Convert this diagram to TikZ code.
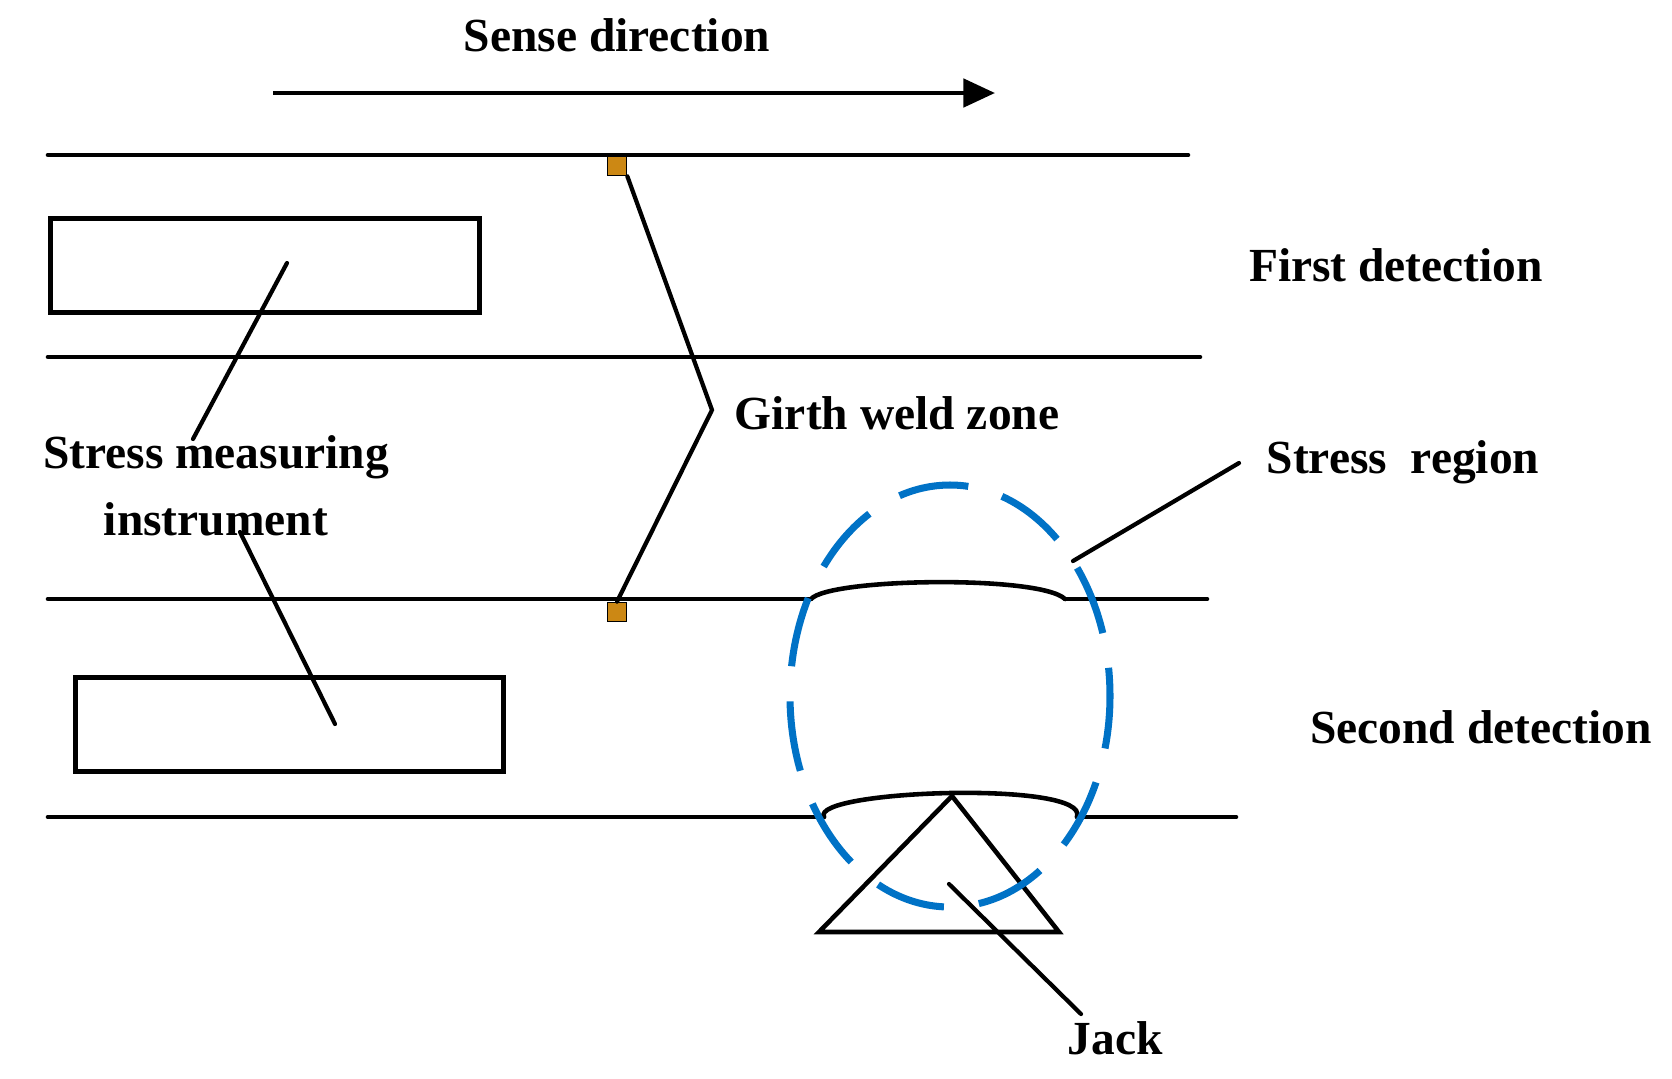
\documentclass[tikz,border=0pt]{standalone}
\usepackage{fontspec}
\setmainfont{Liberation Serif}
\usetikzlibrary{arrows.meta,positioning}
\definecolor{weldorange}{RGB}{204,136,20}
\definecolor{stressblue}{RGB}{0,114,198}

\begin{document}
\begin{tikzpicture}[x=0.01cm, y=-0.01cm]
% Define styles
\tikzset{
  pipe/.style={line width=1.3pt, line cap=round},
  leader/.style={line width=1.2pt, line cap=round},
  label/.style={font=\fontsize{13.5}{16}\selectfont\bfseries, align=center, inner sep=0pt},
  weld/.style={draw=black, fill=weldorange, minimum size=5.5pt, inner sep=0pt, line width=0.4pt},
  arrow/.style={line width=1.3pt, -{Triangle[length=9pt, width=8pt]}}
}
\useasboundingbox (0,0) rectangle (1672,1078);

% Labels
\node (sense) [label] at (617,35) {Sense direction};
\node (first) [label] at (1396,265) {First detection};
\node (second) [label] at (1481,727) {Second detection};
\node (girth) [label] at (897,413) {Girth weld zone};
\node (stress) [label, anchor=west] at (1266,462) {Stress\ \ region};
\node (instr) [label] at (216,486) {Stress measuring\\[3pt]instrument};
\node (jack) [label] at (1115,1038) {Jack};

% Sense direction
\coordinate (s1) at (273,93);
\coordinate (s2) at (995,93);
\draw [arrow] (s1) -- (s2);

% Pipe walls
\draw [pipe] (48,155) -- (1188,155);
\draw [pipe] (48,357) -- (1200,357);
\draw [pipe] (48,599) -- (811,599);
\draw [pipe] (1065,599) -- (1207,599);
\draw [pipe] (48,817) -- (824,817);
\draw [pipe] (1077,817) -- (1236,817);

% Bulges at stress region
\draw [pipe] (811,599) .. controls (830,578) and (1040,575) .. (1065,599);
\draw [pipe] (824,817) .. controls (810,790) and (1090,780) .. (1077,817);

% Instruments
\node (box1) [draw, line width=1.3pt, minimum width=4.29cm, minimum height=0.94cm, anchor=north west] at (48,216) {};
\node (box2) [draw, line width=1.3pt, minimum width=4.28cm, minimum height=0.94cm, anchor=north west] at (73,675) {};
\coordinate (p1) at (287,263);
\coordinate (p2) at (335,724);
\draw [leader] (p1) -- (193,439);
\draw [leader] (240,532) -- (p2);

% Girth welds
\node (w1) [weld] at (617,166) {};
\node (w2) [weld] at (617,612) {};
\coordinate (tip) at (712,410);
\draw [leader] (w1.south east) -- (tip) -- (w2.north);

% Jack
\node (apex) [coordinate] at (952,796) {};
\draw [pipe, line join=miter] (apex) -- (1059,932) -- (819,932) -- cycle;
\coordinate (j1) at (949,884);
\coordinate (j2) at (1081,1014);
\draw [leader] (j1) -- (j2);

% Stress region
\draw [stressblue, line width=2pt, dash pattern=on 20pt off 10pt, dash phase=5pt] (950,696) ellipse [x radius=160, y radius=211];
\coordinate (r1) at (1073,561);
\draw [leader] (r1) -- (1239,463);
\end{tikzpicture}
\end{document}
